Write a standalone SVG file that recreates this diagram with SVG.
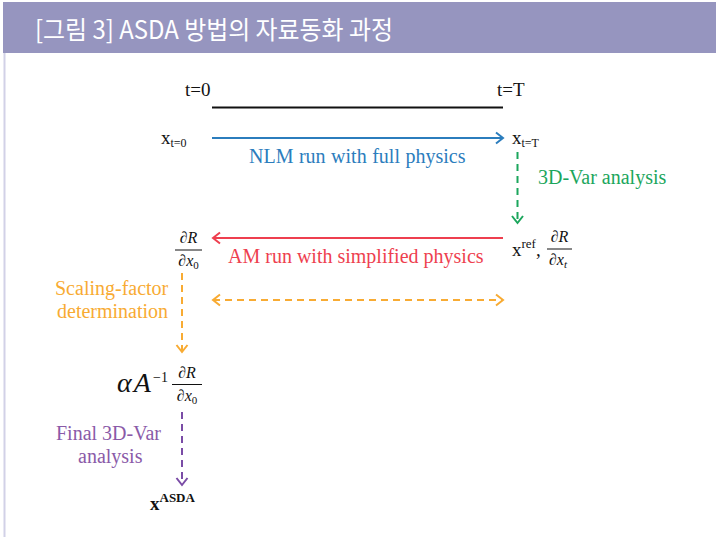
<svg xmlns="http://www.w3.org/2000/svg" width="716" height="537" viewBox="0 0 716 537">
<style>
.ser{font-family:"Liberation Serif","Times New Roman",serif;}
.math{font-family:"Liberation Serif","DejaVu Serif",serif;font-style:italic;}
.lbl{font-family:"Liberation Serif","Times New Roman",serif;font-size:20px;}
.sol{fill:none;stroke-width:2;}
.dash{fill:none;stroke-width:2;stroke-dasharray:7 5;}
</style>
<defs>
<marker id="mBlue" markerUnits="userSpaceOnUse" markerWidth="12" markerHeight="14" viewBox="0 0 12 14" refX="10" refY="7" orient="auto-start-reverse"><path d="M3,1.5 L10,7 L3,12.5" fill="none" stroke="#2b7dbd" stroke-width="2"/></marker>
<marker id="mRed" markerUnits="userSpaceOnUse" markerWidth="12" markerHeight="14" viewBox="0 0 12 14" refX="10" refY="7" orient="auto-start-reverse"><path d="M3,1.5 L10,7 L3,12.5" fill="none" stroke="#ee3f4f" stroke-width="2"/></marker>
<marker id="mGreen" markerUnits="userSpaceOnUse" markerWidth="12" markerHeight="14" viewBox="0 0 12 14" refX="10" refY="7" orient="auto-start-reverse"><path d="M3,1.5 L10,7 L3,12.5" fill="none" stroke="#1ba65c" stroke-width="2"/></marker>
<marker id="mOrange" markerUnits="userSpaceOnUse" markerWidth="12" markerHeight="14" viewBox="0 0 12 14" refX="10" refY="7" orient="auto-start-reverse"><path d="M3,1.5 L10,7 L3,12.5" fill="none" stroke="#f8ab33" stroke-width="2"/></marker>
<marker id="mPurple" markerUnits="userSpaceOnUse" markerWidth="12" markerHeight="14" viewBox="0 0 12 14" refX="10" refY="7" orient="auto-start-reverse"><path d="M3,1.5 L10,7 L3,12.5" fill="none" stroke="#7a4ca6" stroke-width="2"/></marker>
</defs>
<rect width="716" height="537" fill="#ffffff"/>
<g id="header">
<rect x="3" y="2" width="713" height="51" fill="#9695bf"/>
<line x1="4.5" y1="53" x2="4.5" y2="537" stroke="#d2d1e7" stroke-width="2"/>
<text x="35" y="39" font-family="'Noto Sans CJK KR','Noto Sans',sans-serif" font-size="25" fill="#ffffff" textLength="358" lengthAdjust="spacingAndGlyphs">[그림 3] ASDA 방법의 자료동화 과정</text>
</g>
<g id="connectors">
<line class="sol" x1="212" y1="107.5" x2="503" y2="107.5" stroke="#111111"/>
<line class="sol" x1="212" y1="138" x2="503" y2="138" stroke="#2b7dbd" marker-end="url(#mBlue)"/>
<line class="dash" x1="517.5" y1="152" x2="517.5" y2="223" stroke="#1ba65c" marker-end="url(#mGreen)"/>
<line class="sol" x1="503" y1="238" x2="213" y2="238" stroke="#ee3f4f" marker-end="url(#mRed)"/>
<line class="dash" x1="182" y1="273" x2="182" y2="352" stroke="#f8ab33" marker-end="url(#mOrange)"/>
<line class="dash" x1="213" y1="300" x2="503" y2="300" stroke="#f8ab33" marker-start="url(#mOrange)" marker-end="url(#mOrange)"/>
<line class="dash" x1="182" y1="412" x2="182" y2="485" stroke="#7a4ca6" marker-end="url(#mPurple)"/>
</g>
<g id="t0"><text class="ser" x="185" y="96" font-size="19" fill="#111111">t=0</text></g>
<g id="tT"><text class="ser" x="497" y="96" font-size="19" fill="#111111">t=T</text></g>
<g id="x_t0"><text class="ser" x="161" y="144" font-size="19" fill="#111111">x<tspan font-size="12" dy="3">t=0</tspan></text></g>
<g id="x_tT"><text class="ser" x="512" y="144" font-size="19" fill="#111111">x<tspan font-size="12" dy="3">t=T</tspan></text></g>
<g id="xref">
<text class="ser" x="512" y="256" font-size="19" fill="#111111">x<tspan font-size="13" dy="-8">ref</tspan><tspan dy="8">,</tspan></text>
<text class="math" x="559.5" y="242" font-size="16" fill="#111111" text-anchor="middle">∂R</text>
<line x1="547" y1="249" x2="572" y2="249" stroke="#111111" stroke-width="1"/>
<text class="math" x="558" y="265" font-size="16" fill="#111111" text-anchor="middle">∂x<tspan font-size="11" dy="3">t</tspan></text>
</g>
<g id="dRdx0">
<text class="math" x="188.5" y="243" font-size="16" fill="#111111" text-anchor="middle">∂R</text>
<line x1="175" y1="250" x2="202" y2="250" stroke="#111111" stroke-width="1"/>
<text class="math" x="188.5" y="266" font-size="16" fill="#111111" text-anchor="middle">∂x<tspan font-size="11" dy="3" font-style="normal">0</tspan></text>
</g>
<g id="alphaA">
<text class="math" x="117" y="392" font-size="28" fill="#111111" letter-spacing="2">αA</text>
<text class="ser" x="153" y="382" font-size="14" fill="#111111">−1</text>
<text class="math" x="187" y="378" font-size="16" fill="#111111" text-anchor="middle">∂R</text>
<line x1="172" y1="384.5" x2="202" y2="384.5" stroke="#111111" stroke-width="1"/>
<text class="math" x="187" y="401" font-size="16" fill="#111111" text-anchor="middle">∂x<tspan font-size="11" dy="3" font-style="normal">0</tspan></text>
</g>
<g id="xASDA"><text class="ser" x="150" y="510" font-size="19" font-weight="bold" fill="#111111">x<tspan font-size="13" dy="-8">ASDA</tspan></text></g>
<g id="labels">
<text class="lbl" x="249" y="163" fill="#2b7dbd" word-spacing="0.5">NLM run with full physics</text>
<text class="lbl" x="538" y="184" fill="#1ba65c">3D-Var analysis</text>
<text class="lbl" x="228" y="263" fill="#ee3f4f">AM run with simplified physics</text>
<text class="lbl" x="55" y="295" fill="#f8ab33">Scaling-factor</text>
<text class="lbl" x="57" y="318" fill="#f8ab33">determination</text>
<text class="lbl" x="56" y="440" fill="#8a5aa8">Final 3D-Var</text>
<text class="lbl" x="78" y="463" fill="#8a5aa8">analysis</text>
</g>
</svg>
